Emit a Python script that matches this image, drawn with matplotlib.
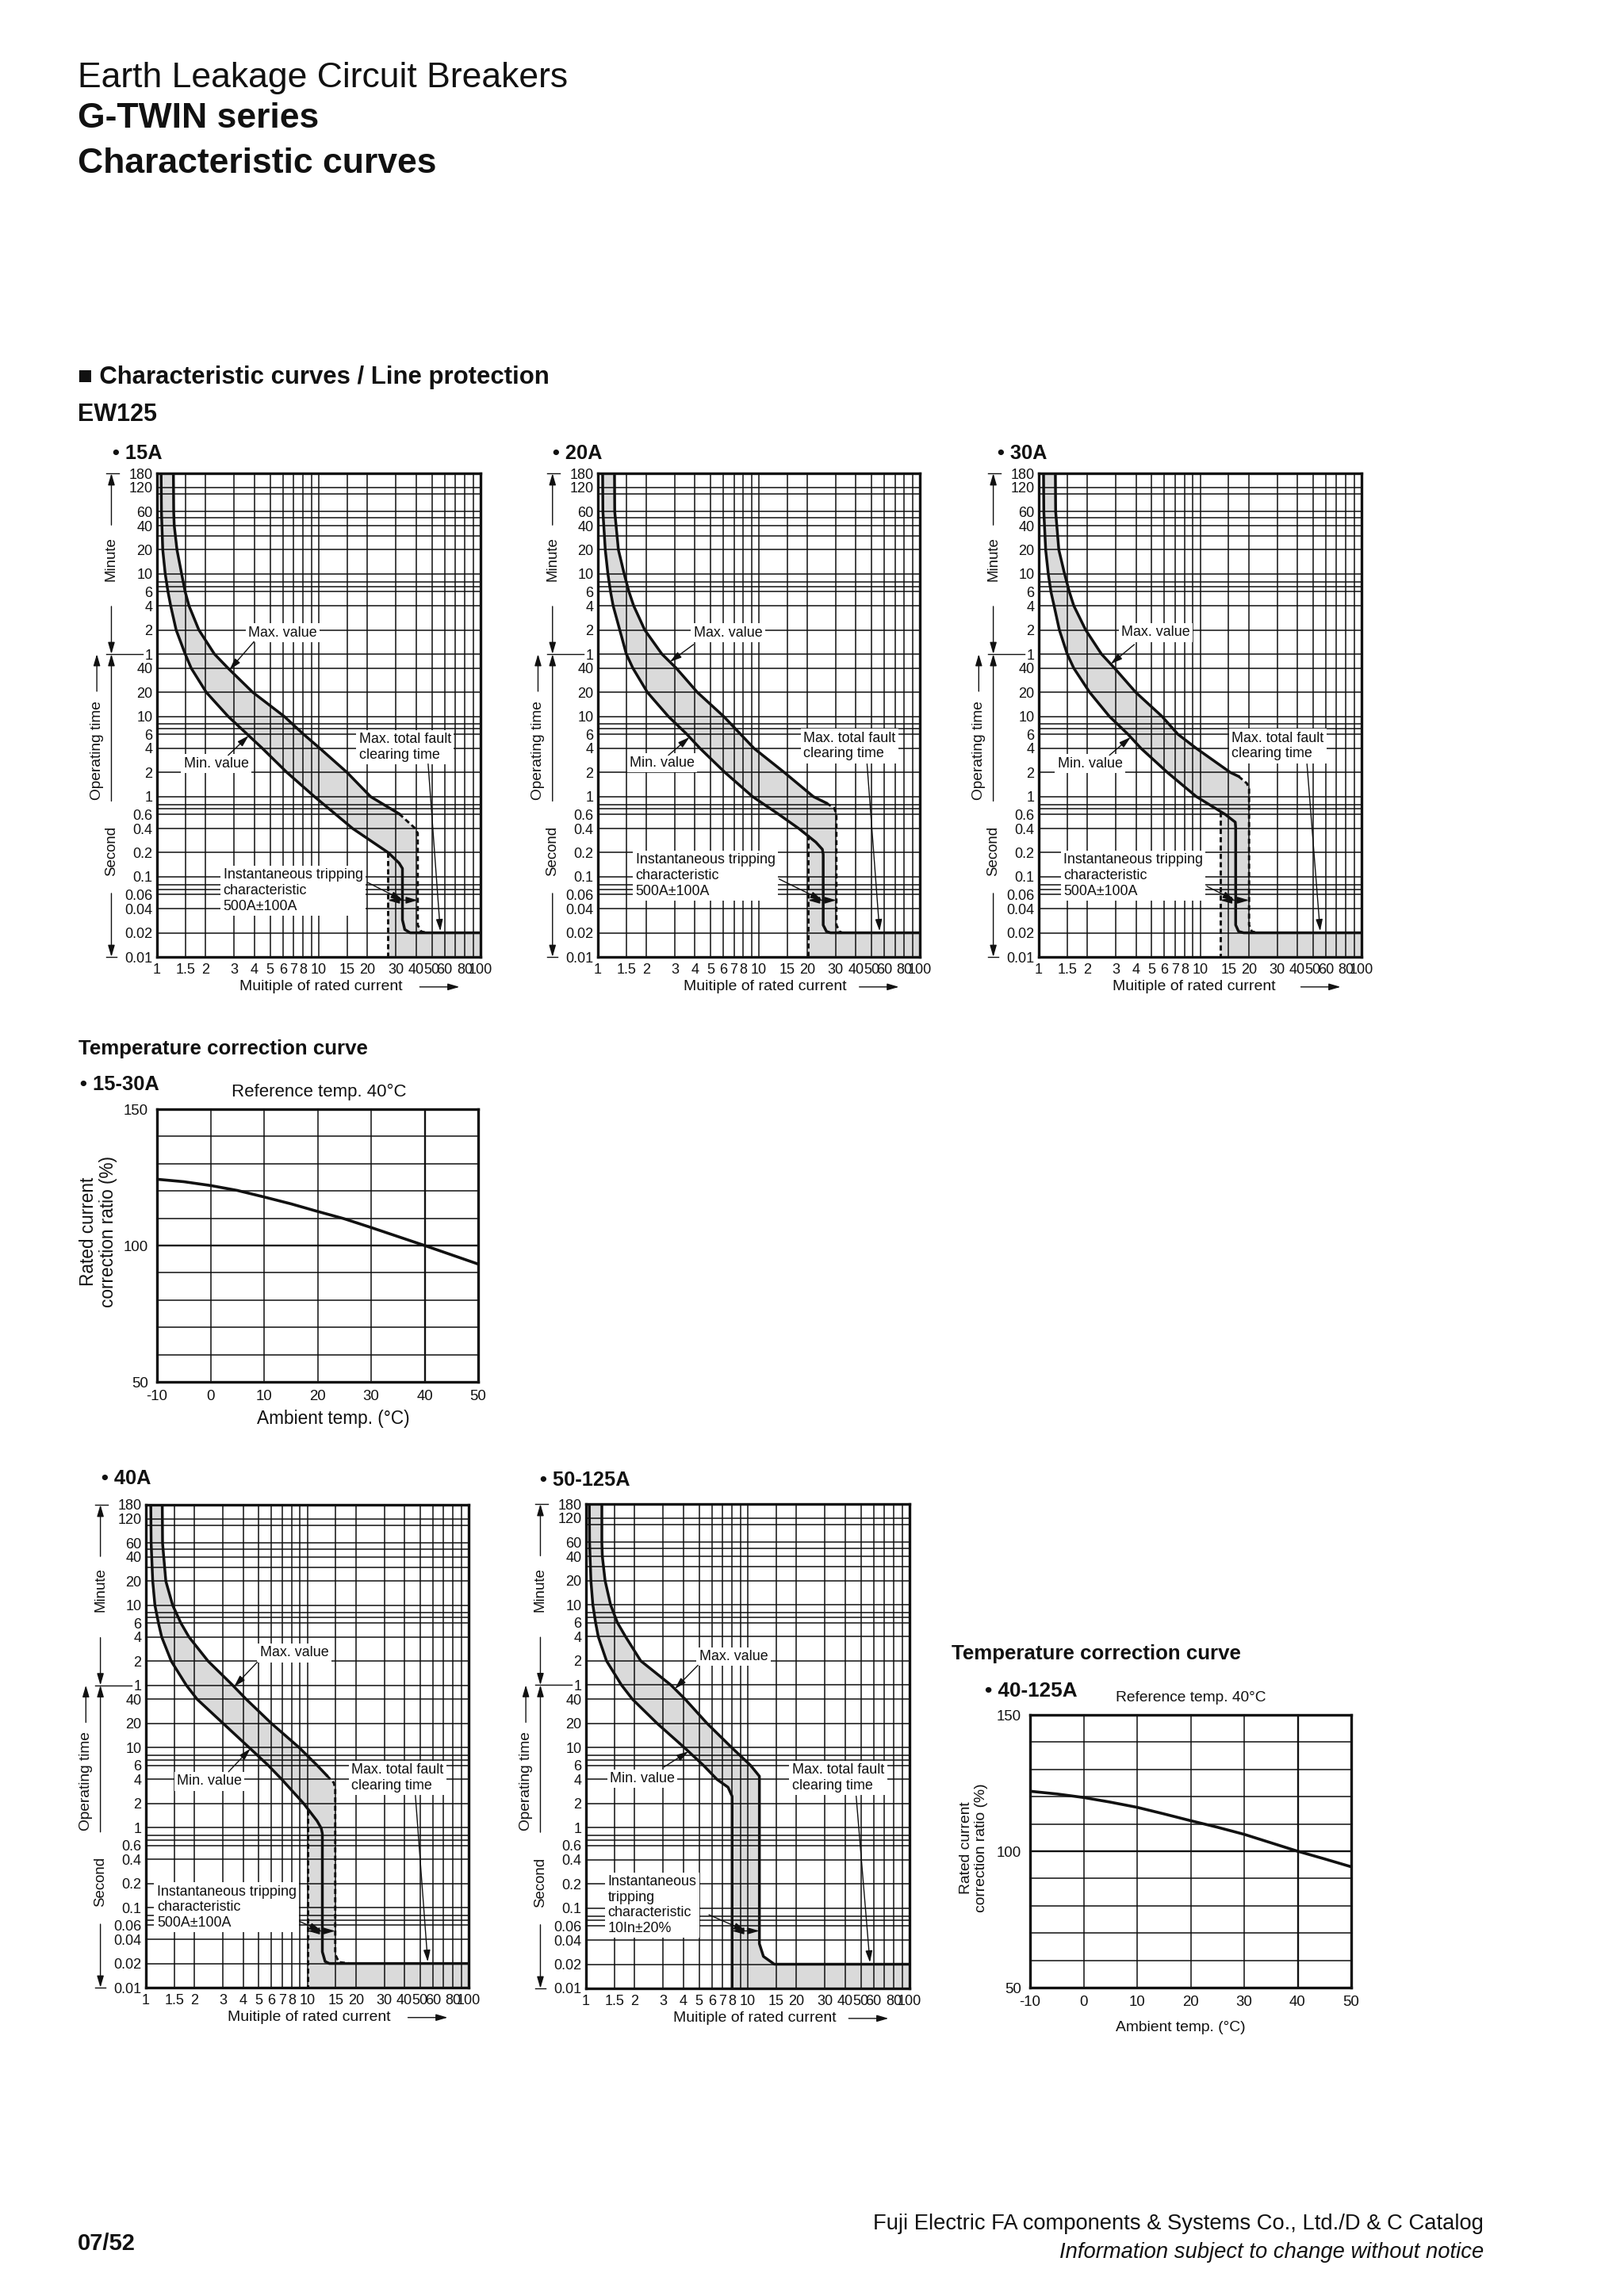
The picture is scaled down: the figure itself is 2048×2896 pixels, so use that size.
#!/usr/bin/env python3
"""EW125 characteristic curves page (Fuji G-TWIN catalog), redrawn with matplotlib."""

import matplotlib

matplotlib.use("Agg")
import matplotlib.pyplot as plt
from matplotlib.ticker import NullLocator
import numpy as np

W, H = 2048, 2896
INK = "#111111"
SHADE = "#dadada"

# ---- axes scales -------------------------------------------------------
MULT_TICKS = [1, 1.5, 2, 3, 4, 5, 6, 7, 8, 10, 15, 20, 30, 40, 50, 60, 80, 100]
MULT_GRID = [1, 1.5, 2, 3, 4, 5, 6, 7, 8, 9, 10, 15, 20, 30, 40, 50, 60, 70, 80, 90, 100]
MINUTE_TICKS = [180, 120, 60, 40, 20, 10, 6, 4, 2, 1]
SECOND_TICKS = [40, 20, 10, 6, 4, 2, 1, 0.6, 0.4, 0.2, 0.1, 0.06, 0.04, 0.02, 0.01]
MINUTE_GRID = [180, 120, 100, 60, 50, 40, 30, 20, 10, 8, 7, 6, 4, 2, 1]
SECOND_GRID = [40, 20, 10, 8, 7, 6, 4, 2, 1, 0.8, 0.7, 0.6, 0.4, 0.2, 0.1, 0.08, 0.07, 0.06, 0.04, 0.02, 0.01]

# ---- trip curves: multiple of rated current / operating time (s) --------
MIN15_M = [1.06, 1.065, 1.085, 1.124, 1.169, 1.215, 1.313, 1.494, 1.627, 2.017, 2.754, 4.48, 6.36, 9.40, 16.2, 26.9, 31.4, 32.9, 32.9, 34.0, 36.7, 100]
MIN15_T = [10800, 3600, 1200, 600, 360, 240, 120, 60, 40, 20, 10, 4, 2, 1, 0.4, 0.2, 0.148, 0.127, 0.029, 0.022, 0.02, 0.02]
MAX15_M = [1.263, 1.268, 1.278, 1.329, 1.420, 1.493, 1.577, 1.815, 2.266, 2.75, 3.91, 6.12, 8.05, 10.16, 14.97, 20.9, 31.4]
MAX15_T = [10800, 3600, 2400, 1200, 600, 360, 240, 120, 60, 40, 20, 10, 6, 4, 2, 1, 0.61]
DASH15_M = [31.4, 39.0, 40.9, 40.9, 42.9, 46.4]
DASH15_T = [0.61, 0.41, 0.35, 0.025, 0.0208, 0.02]

MIN20_M = [1.07, 1.074, 1.111, 1.154, 1.198, 1.244, 1.367, 1.502, 1.650, 2.03, 2.74, 3.57, 4.31, 6.16, 9.14, 13.3, 17.7, 22.6, 24.8, 25.1, 25.1, 26.3, 27.8, 100]
MIN20_T = [10800, 3600, 1200, 600, 360, 240, 120, 60, 40, 20, 10, 6, 4, 2, 1, 0.6, 0.4, 0.27, 0.22, 0.19, 0.025, 0.0208, 0.02, 0.02]
MAX20_M = [1.268, 1.272, 1.341, 1.457, 1.559, 1.669, 1.955, 2.50, 3.07, 4.15, 6.05, 9.33, 14.4, 21.8, 26.3]
MAX20_T = [10800, 3600, 1200, 600, 360, 240, 120, 60, 40, 20, 10, 4, 2, 1, 0.83]
DASH20_M = [26.3, 29.4, 30.3, 30.3, 31.7, 32.9]
DASH20_T = [0.83, 0.72, 0.6, 0.025, 0.0208, 0.02]

MIN30_M = [1.07, 1.074, 1.103, 1.145, 1.189, 1.244, 1.341, 1.501, 1.648, 2.066, 2.74, 3.57, 4.30, 6.27, 9.47, 14.3, 16.5, 16.6, 16.6, 17.3, 18.6, 100]
MIN30_T = [10800, 3600, 1200, 600, 360, 240, 120, 60, 40, 20, 10, 6, 4, 2, 1, 0.6, 0.48, 0.41, 0.025, 0.0208, 0.02, 0.02]
MAX30_M = [1.267, 1.272, 1.331, 1.445, 1.546, 1.649, 1.953, 2.447, 2.95, 3.99, 5.81, 7.28, 9.47, 15.4, 17.3]
MAX30_T = [10800, 3600, 1200, 600, 360, 240, 120, 60, 40, 20, 10, 6, 4, 2, 1.79]
DASH30_M = [17.3, 19.5, 20.1, 20.1, 20.9, 22.5]
DASH30_T = [1.79, 1.46, 1.25, 0.025, 0.0208, 0.02]

MIN40_M = [1.072, 1.077, 1.102, 1.137, 1.196, 1.253, 1.436, 1.78, 2.08, 3.01, 4.36, 5.72, 6.95, 9.49, 11.5, 12.2, 12.4, 12.4, 12.9, 13.7, 100]
MIN40_T = [10800, 3600, 1200, 600, 360, 240, 120, 60, 40, 20, 10, 6, 4, 2, 1.21, 0.98, 0.84, 0.028, 0.0212, 0.02, 0.02]
MAX40_M = [1.263, 1.268, 1.329, 1.465, 1.646, 1.85, 2.43, 3.45, 4.19, 6.0, 8.9, 11.5, 13.2]
MAX40_T = [10800, 3600, 1200, 600, 360, 240, 120, 60, 40, 20, 10, 6, 4.48]
DASH40_M = [13.2, 14.6, 14.9, 14.9, 15.7, 18.4]
DASH40_T = [4.48, 3.63, 3.1, 0.026, 0.0208, 0.02]

MIN50_M = [1.048, 1.052, 1.072, 1.102, 1.146, 1.191, 1.339, 1.657, 1.936, 2.75, 4.05, 5.32, 6.46, 7.55, 8.0, 8.0]
MIN50_T = [10800, 3600, 1200, 600, 360, 240, 120, 60, 40, 20, 10, 6, 4, 3.2, 2.47, 0.01]
MAX50_M = [1.253, 1.253, 1.262, 1.312, 1.419, 1.563, 1.757, 2.18, 3.35, 4.1, 5.6, 7.95, 10.4, 11.8, 11.8, 12.5, 14.6, 100]
MAX50_T = [10800, 3600, 2400, 1200, 600, 360, 240, 120, 60, 40, 20, 10, 6, 4.39, 0.036, 0.025, 0.02, 0.02]

# instantaneous band: lower edge (multiple, top time) and upper edge multiple
INST15 = (26.7, 0.2, 40.9)
INST20 = (20.2, 0.33, 30.3)
INST30 = (13.3, 0.65, 20.1)
INST40 = (10.07, 1.65, 14.9)
INST50 = (8.0, 2.47, 11.8)

# ---- temperature correction -------------------------------------------
TEMP_C = [-10, -5, 0, 5, 10, 15, 20, 25, 30, 35, 40, 45, 50]
RATIO_15_30 = [124.3, 123.4, 122.0, 120.2, 117.8, 115.3, 112.5, 109.8, 106.6, 103.3, 100.0, 96.6, 93.2]
RATIO_40_125 = [122.0, 121.0, 119.7, 118.0, 116.1, 113.7, 111.2, 108.8, 106.2, 103.1, 100.0, 97.2, 94.3]
TEMP_TICKS = [-10, 0, 10, 20, 30, 40, 50]
RATIO_TICKS = [50, 100, 150]

INST_500 = "Instantaneous tripping\ncharacteristic\n500A\u00b1100A"
INST_10IN = "Instantaneous\ntripping\ncharacteristic\n10In\u00b120%"

plt.rcParams.update(
    {
        "font.family": ["Liberation Sans", "DejaVu Sans"],
        "text.color": INK,
        "axes.edgecolor": INK,
        "xtick.color": INK,
        "ytick.color": INK,
        "figure.facecolor": "white",
        "axes.facecolor": "white",
    }
)

ARROW = dict(arrowstyle="-|>,head_length=0.55,head_width=0.16", color=INK, lw=1.0,
             mutation_scale=16, shrinkA=0, shrinkB=0)
GRID_LW = 1.1


def fig_box(fig, left, top, right, bottom):
    return fig.add_axes([left / W, 1 - bottom / H, (right - left) / W, (bottom - top) / H])


def fig_text(fig, x, y, s, **kw):
    return fig.text(x / W, 1 - y / H, s, va="baseline", **kw)


def fmt(v):
    return f"{v:g}"


def on_curve(m, ms, ts):
    return 10 ** np.interp(np.log10(m), np.log10(ms), np.log10(ts))


def side_brackets(ax):
    tr = ax.get_yaxis_transform()
    bx, ox = -0.141, -0.186
    line = dict(color=INK, lw=1.0, transform=tr, clip_on=False)
    ax.plot([-0.157, -0.118], [10800, 10800], **line)
    ax.plot([-0.157, -0.045], [60, 60], **line)
    ax.plot([-0.157, -0.125], [0.01, 0.01], **line)
    for start, end in ((2445, 10800), (236, 60), (0.88, 60), (0.062, 0.01)):
        ax.annotate("", xy=(bx, end), xytext=(bx, start), xycoords=tr, textcoords=tr,
                    arrowprops=ARROW, annotation_clip=False)
    ax.annotate("", xy=(ox, 60), xytext=(ox, 20.6), xycoords=tr, textcoords=tr,
                arrowprops=ARROW, annotation_clip=False)
    ax.text(bx, 930, "Minute", rotation=90, ha="center", va="center", fontsize=13.4, transform=tr)
    ax.text(bx, 0.21, "Second", rotation=90, ha="center", va="center", fontsize=13.4, transform=tr)
    ax.text(ox, 3.8, "Operating time", rotation=90, ha="center", va="center", fontsize=13.8, transform=tr)


def trip_chart(fig, c):
    ax = fig_box(fig, *c["box"])
    ax.set_xscale("log")
    ax.set_yscale("log")
    ax.set_xlim(1, 100)
    ax.set_ylim(0.01, 10800)
    for m in MULT_GRID:
        ax.axvline(m, color=INK, lw=GRID_LW, zorder=2)
    for t in [v * 60 for v in MINUTE_GRID] + SECOND_GRID:
        ax.axhline(t, color=INK, lw=GRID_LW, zorder=2)

    lo_m, lo_t = c["lower"]
    up_m, up_t = c["upper"]
    edge_m, edge_t, high_m = c["inst"]
    if c["dash"]:
        band_m, band_t = up_m + c["dash"][0][1:], up_t + c["dash"][1][1:]
    else:
        band_m, band_t = up_m, up_t
    keep = [i for i, m in enumerate(lo_m) if m < edge_m]
    poly_m = [lo_m[i] for i in keep] + [edge_m, edge_m, 100, 100] + band_m[::-1]
    poly_t = [lo_t[i] for i in keep] + [edge_t, 0.01, 0.01, 0.02] + band_t[::-1]
    ax.fill(poly_m, poly_t, color=SHADE, lw=0, zorder=1)

    ax.plot(lo_m, lo_t, color=INK, lw=2.5, zorder=3, solid_joinstyle="round")
    ax.plot(up_m, up_t, color=INK, lw=2.5, zorder=3, solid_joinstyle="round")
    if c["dash"]:
        ax.plot(*c["dash"], color=INK, lw=2.1, ls=(0, (2.2, 1.4)), zorder=3)
        ax.plot([edge_m, edge_m], [edge_t, 0.01], color=INK, lw=2.1, ls=(0, (2.2, 1.4)), zorder=3)

    ax.xaxis.set_minor_locator(NullLocator())
    ax.yaxis.set_minor_locator(NullLocator())
    ax.set_xticks(MULT_TICKS, [fmt(v) for v in MULT_TICKS])
    ax.set_yticks([v * 60 for v in MINUTE_TICKS] + SECOND_TICKS,
                  [fmt(v) for v in MINUTE_TICKS + SECOND_TICKS])
    ax.tick_params(axis="x", length=0, labelsize=13, pad=6)
    ax.tick_params(axis="y", length=0, labelsize=13, pad=4)
    for sp in ax.spines.values():
        sp.set_linewidth(2.4)
        sp.set_zorder(6)

    box = dict(facecolor="white", edgecolor="none", pad=2.5)
    for key, text in (("max", "Max. value"), ("min", "Min. value"),
                      ("flt", "Max. total fault\nclearing time"), ("ins", c["inst_text"])):
        ax.text(*c[key + "_txt"], text, transform=ax.transAxes, ha="left", va="center",
                fontsize=12.9, linespacing=1.2, bbox=box, zorder=5)
    targets = {
        "max": (c["max_m"], on_curve(c["max_m"], up_m, up_t)),
        "min": (c["min_m"], on_curve(c["min_m"], lo_m, lo_t)),
        "flt": (c["flt_m"], 0.021),
        "ins": (float(np.sqrt(edge_m * high_m)), c["ins_t"]),
    }
    for key, xy in targets.items():
        ax.annotate("", xy=xy, xytext=c[key + "_from"], textcoords="axes fraction",
                    arrowprops=ARROW, zorder=6)
    ax.annotate("", xy=(high_m, c["ins_t"]), xytext=(edge_m, c["ins_t"]),
                arrowprops=dict(ARROW, arrowstyle="<|-|>,head_length=0.55,head_width=0.16"), zorder=6)

    ax.text(c["xlabel_x"], -0.062, "Muitiple of rated current", transform=ax.transAxes,
            ha="center", va="center", fontsize=14)
    ax.annotate("", xy=(0.935, -0.062), xytext=(0.812, -0.062), xycoords="axes fraction",
                arrowprops=ARROW, annotation_clip=False)
    side_brackets(ax)
    fig_text(fig, c["title_x"], c["title_y"], "\u2022 " + c["name"], fontsize=18.3, fontweight="bold")


def temp_chart(fig, box, ratio, label_size, xlab, ylab):
    ax = fig_box(fig, *box)
    ax.set_xlim(-10, 50)
    ax.set_ylim(50, 150)
    for x in range(-10, 51, 10):
        ax.axvline(x, color=INK, lw=1.7 if x == 40 else 1.1, zorder=1)
    for y in range(50, 151, 10):
        ax.axhline(y, color=INK, lw=1.7 if y == 100 else 1.1, zorder=1)
    ax.plot(TEMP_C, ratio, color=INK, lw=2.6, zorder=3)
    ax.set_xticks(TEMP_TICKS, [str(v) for v in TEMP_TICKS])
    ax.set_yticks(RATIO_TICKS, [str(v) for v in RATIO_TICKS])
    ax.tick_params(axis="x", length=0, labelsize=13.4, pad=7)
    ax.tick_params(axis="y", length=0, labelsize=13.4, pad=8)
    for sp in ax.spines.values():
        sp.set_linewidth(2.4)
        sp.set_zorder(5)
    ax.text(*xlab, "Ambient temp. (\u00b0C)", transform=ax.transAxes, ha="center", va="center",
            fontsize=label_size)
    ax.text(*ylab, "Rated current\ncorrection ratio (%)", transform=ax.transAxes, rotation=90,
            ha="center", va="center", multialignment="center", fontsize=label_size, linespacing=1.1)


CHARTS = [
    dict(name="15A", box=(198, 597, 606, 1207), title_x=142, title_y=579,
         lower=(MIN15_M, MIN15_T), upper=(MAX15_M, MAX15_T), dash=(DASH15_M, DASH15_T),
         inst=INST15, inst_text=INST_500, xlabel_x=0.506,
         max_txt=(0.283, 0.670), max_from=(0.300, 0.652), max_m=2.81,
         min_txt=(0.083, 0.400), min_from=(0.220, 0.417), min_m=3.69,
         flt_txt=(0.624, 0.434), flt_from=(0.838, 0.399), flt_m=56.4,
         ins_txt=(0.205, 0.137), ins_from=(0.651, 0.154), ins_t=0.051),
    dict(name="20A", box=(754, 597, 1160, 1207), title_x=697, title_y=579,
         lower=(MIN20_M, MIN20_T), upper=(MAX20_M, MAX20_T), dash=(DASH20_M, DASH20_T),
         inst=INST20, inst_text=INST_500, xlabel_x=0.52,
         max_txt=(0.297, 0.670), max_from=(0.297, 0.646), max_m=2.80,
         min_txt=(0.099, 0.401), min_from=(0.219, 0.417), min_m=3.71,
         flt_txt=(0.638, 0.436), flt_from=(0.836, 0.399), flt_m=56.2,
         ins_txt=(0.117, 0.168), ins_from=(0.563, 0.161), ins_t=0.051),
    dict(name="30A", box=(1310, 597, 1717, 1207), title_x=1258, title_y=579,
         lower=(MIN30_M, MIN30_T), upper=(MAX30_M, MAX30_T), dash=(DASH30_M, DASH30_T),
         inst=INST30, inst_text=INST_500, xlabel_x=0.48,
         max_txt=(0.256, 0.671), max_from=(0.296, 0.646), max_m=2.79,
         min_txt=(0.058, 0.400), min_from=(0.219, 0.417), min_m=3.71,
         flt_txt=(0.597, 0.436), flt_from=(0.831, 0.399), flt_m=55.4,
         ins_txt=(0.076, 0.168), ins_from=(0.521, 0.146), ins_t=0.051),
    dict(name="40A", box=(184, 1898, 591, 2507), title_x=128, title_y=1872,
         lower=(MIN40_M, MIN40_T), upper=(MAX40_M, MAX40_T), dash=(DASH40_M, DASH40_T),
         inst=INST40, inst_text=INST_500, xlabel_x=0.505,
         max_txt=(0.353, 0.693), max_from=(0.345, 0.674), max_m=3.52,
         min_txt=(0.096, 0.427), min_from=(0.256, 0.447), min_m=4.44,
         flt_txt=(0.637, 0.434), flt_from=(0.835, 0.398), flt_m=55.8,
         ins_txt=(0.034, 0.166), ins_from=(0.476, 0.137), ins_t=0.051),
    dict(name="50-125A", box=(739, 1897, 1147, 2508), title_x=681, title_y=1874,
         lower=(MIN50_M, MIN50_T), upper=(MAX50_M, MAX50_T), dash=None,
         inst=INST50, inst_text=INST_10IN, xlabel_x=0.522,
         max_txt=(0.350, 0.685), max_from=(0.346, 0.667), max_m=3.54,
         min_txt=(0.074, 0.433), min_from=(0.241, 0.457), min_m=4.3,
         flt_txt=(0.637, 0.435), flt_from=(0.835, 0.397), flt_m=56.9,
         ins_txt=(0.068, 0.172), ins_from=(0.380, 0.152), ins_t=0.052),
]


def main():
    fig = plt.figure(figsize=(W / 100, H / 100), dpi=100)

    fig_text(fig, 98, 110, "Earth Leakage Circuit Breakers", fontsize=32)
    fig_text(fig, 98, 161, "G-TWIN series", fontsize=32, fontweight="bold")
    fig_text(fig, 98, 218, "Characteristic curves", fontsize=32, fontweight="bold")
    fig_text(fig, 98, 484, "\u25a0 Characteristic curves / Line protection", fontsize=22.4, fontweight="bold")
    fig_text(fig, 98, 531, "EW125", fontsize=22, fontweight="bold")

    for chart in CHARTS:
        trip_chart(fig, chart)

    fig_text(fig, 99, 1330, "Temperature correction curve", fontsize=18.6, fontweight="bold")
    fig_text(fig, 101, 1375, "\u2022 15-30A", fontsize=18.4, fontweight="bold")
    fig_text(fig, 292, 1383, "Reference temp. 40\u00b0C", fontsize=16)
    temp_chart(fig, (198, 1399, 603, 1743), RATIO_15_30, 16.3, (0.548, -0.134), (-0.183, 0.55))

    fig_text(fig, 1200, 2093, "Temperature correction curve", fontsize=18.6, fontweight="bold")
    fig_text(fig, 1242, 2140, "\u2022 40-125A", fontsize=18.8, fontweight="bold")
    fig_text(fig, 1407, 2146, "Reference temp. 40\u00b0C", fontsize=13.8)
    temp_chart(fig, (1299, 2163, 1704, 2507), RATIO_40_125, 13.9, (0.469, -0.148), (-0.175, 0.512))

    fig_text(fig, 98, 2838, "07/52", fontsize=21, fontweight="bold")
    fig_text(fig, 1871, 2812, "Fuji Electric FA components & Systems Co., Ltd./D & C Catalog",
             fontsize=19.7, ha="right")
    fig_text(fig, 1871, 2848, "Information subject to change without notice",
             fontsize=19.7, ha="right", style="italic")

    fig.savefig("out.png", dpi=100)
    plt.close(fig)


if __name__ == "__main__":
    main()
